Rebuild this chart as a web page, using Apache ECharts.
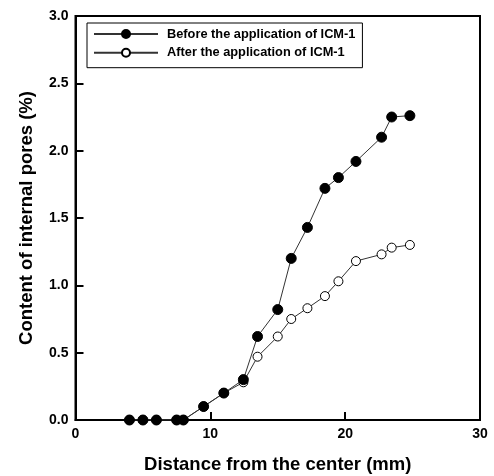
<!DOCTYPE html>
<html><head><meta charset="utf-8">
<script src="https://cdn.jsdelivr.net/npm/echarts@6/dist/echarts.min.js"></script>
<style>html,body{margin:0;padding:0;background:#fff}#c{width:494px;height:476px}</style>
</head><body><div id="c"></div>
<script>
const distance = [4.0, 5.0, 6.0, 7.5, 8.0, 9.5, 11.0, 12.45, 13.5, 15.0, 16.0, 17.2, 18.5, 19.5, 20.8, 22.7, 23.45, 24.8];
const before = [0, 0, 0, 0, 0, 0.10, 0.20, 0.30, 0.62, 0.82, 1.20, 1.43, 1.72, 1.80, 1.92, 2.10, 2.25, 2.26];
const after = [0, 0, 0, 0, 0, 0.10, 0.20, 0.28, 0.47, 0.62, 0.75, 0.83, 0.92, 1.03, 1.18, 1.23, 1.28, 1.30];
const seriesNames = ['Before the application of ICM-1', 'After the application of ICM-1'];
const xTitle = 'Distance from the center (mm)';
const yTitle = 'Content of internal pores (%)';

const font = '"Liberation Sans", Arial, sans-serif';
const chart = echarts.init(document.getElementById('c'));
chart.setOption({
  animation: false,
  grid: {left: 75.5, right: 14, top: 16, bottom: 56, show: true, borderColor: '#000', borderWidth: 2,
    containLabel: false, outerBoundsMode: 'none'},
  legend: {
    left: 87, top: 23,
    orient: 'vertical',
    borderColor: '#000', borderWidth: 1,
    padding: [4, 7, 8, 6],
    itemGap: 4.7, itemWidth: 64, itemHeight: 10,
    textStyle: {fontFamily: font, fontWeight: 'bold', fontSize: 12.8, lineHeight: 14, color: '#000', padding: [0, 0, 0, 4]},
    data: seriesNames
  },
  xAxis: {
    type: 'value', min: 0, max: 30, interval: 10,
    name: xTitle, nameLocation: 'middle', nameGap: 35,
    nameTextStyle: {fontFamily: font, fontWeight: 'bold', fontSize: 18.5, color: '#000'},
    axisLine: {lineStyle: {color: '#000', width: 2}},
    axisTick: {inside: true, length: 8, lineStyle: {color: '#000', width: 2}},
    axisLabel: {fontFamily: font, fontWeight: 'bold', fontSize: 14, color: '#000', margin: 7},
    splitLine: {show: false}
  },
  yAxis: {
    type: 'value', min: 0, max: 3, interval: 0.5,
    name: yTitle, nameLocation: 'middle', nameGap: 39,
    nameTextStyle: {fontFamily: font, fontWeight: 'bold', fontSize: 18.5, color: '#000'},
    axisLine: {lineStyle: {color: '#000', width: 2}},
    axisTick: {inside: true, length: 8, lineStyle: {color: '#000', width: 2}},
    axisLabel: {fontFamily: font, fontWeight: 'bold', fontSize: 14, color: '#000', margin: 7,
      formatter: v => v.toFixed(1)},
    splitLine: {show: false}
  },
  series: [
    {
      name: seriesNames[1], type: 'line', z: 2,
      data: distance.map((d, i) => [d, after[i]]),
      symbol: 'circle', symbolSize: 9,
      lineStyle: {color: '#333', width: 1},
      itemStyle: {color: '#fff', borderColor: '#000', borderWidth: 1}
    },
    {
      name: seriesNames[0], type: 'line', z: 3,
      data: distance.map((d, i) => [d, before[i]]),
      symbol: 'circle', symbolSize: 10,
      lineStyle: {color: '#333', width: 1},
      itemStyle: {color: '#000', borderColor: '#000', borderWidth: 1}
    }
  ]
});
</script></body></html>
